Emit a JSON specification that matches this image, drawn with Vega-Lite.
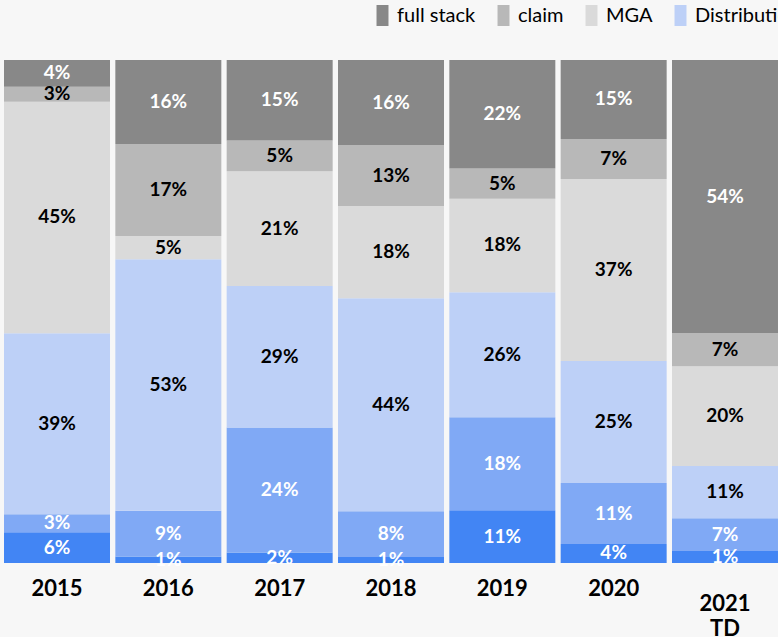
{
  "$schema": "https://vega.github.io/schema/vega-lite/v6.json",
  "autosize": {"type": "none"},
  "padding": {"left": 0, "top": 60, "right": 0, "bottom": 74},
  "width": 782,
  "height": 503,
  "background": "#f7f7f7",
  "config": {"view": {"stroke": null}, "font": "Lato"},
  "data": {
    "values": [
      {"year": "2015", "segment": "Other", "value": 6, "share": 6.1},
      {"year": "2015", "segment": "Infrastructure", "value": 3, "share": 3.6},
      {"year": "2015", "segment": "Distribution", "value": 39, "share": 36.0},
      {"year": "2015", "segment": "MGA", "value": 45, "share": 46.0},
      {"year": "2015", "segment": "claim", "value": 3, "share": 3.0},
      {"year": "2015", "segment": "full stack", "value": 4, "share": 5.3},
      {"year": "2016", "segment": "Other", "value": 1, "share": 1.3},
      {"year": "2016", "segment": "Infrastructure", "value": 9, "share": 9.1},
      {"year": "2016", "segment": "Distribution", "value": 53, "share": 50.0},
      {"year": "2016", "segment": "MGA", "value": 5, "share": 4.6},
      {"year": "2016", "segment": "claim", "value": 17, "share": 18.3},
      {"year": "2016", "segment": "full stack", "value": 16, "share": 16.7},
      {"year": "2017", "segment": "Other", "value": 2, "share": 2.1},
      {"year": "2017", "segment": "Infrastructure", "value": 24, "share": 24.8},
      {"year": "2017", "segment": "Distribution", "value": 29, "share": 28.1},
      {"year": "2017", "segment": "MGA", "value": 21, "share": 22.8},
      {"year": "2017", "segment": "claim", "value": 5, "share": 6.1},
      {"year": "2017", "segment": "full stack", "value": 15, "share": 16.0},
      {"year": "2018", "segment": "Other", "value": 1, "share": 1.2},
      {"year": "2018", "segment": "Infrastructure", "value": 8, "share": 9.1},
      {"year": "2018", "segment": "Distribution", "value": 44, "share": 42.3},
      {"year": "2018", "segment": "MGA", "value": 18, "share": 18.3},
      {"year": "2018", "segment": "claim", "value": 13, "share": 12.1},
      {"year": "2018", "segment": "full stack", "value": 16, "share": 16.9},
      {"year": "2019", "segment": "Other", "value": 11, "share": 10.5},
      {"year": "2019", "segment": "Infrastructure", "value": 18, "share": 18.5},
      {"year": "2019", "segment": "Distribution", "value": 26, "share": 24.9},
      {"year": "2019", "segment": "MGA", "value": 18, "share": 18.6},
      {"year": "2019", "segment": "claim", "value": 5, "share": 6.0},
      {"year": "2019", "segment": "full stack", "value": 22, "share": 21.6},
      {"year": "2020", "segment": "Other", "value": 4, "share": 3.8},
      {"year": "2020", "segment": "Infrastructure", "value": 11, "share": 12.1},
      {"year": "2020", "segment": "Distribution", "value": 25, "share": 24.3},
      {"year": "2020", "segment": "MGA", "value": 37, "share": 36.2},
      {"year": "2020", "segment": "claim", "value": 7, "share": 8.0},
      {"year": "2020", "segment": "full stack", "value": 15, "share": 15.7},
      {"year": "2021 TD", "segment": "Other", "value": 1, "share": 2.4},
      {"year": "2021 TD", "segment": "Infrastructure", "value": 7, "share": 6.5},
      {"year": "2021 TD", "segment": "Distribution", "value": 11, "share": 10.4},
      {"year": "2021 TD", "segment": "MGA", "value": 20, "share": 19.8},
      {"year": "2021 TD", "segment": "claim", "value": 7, "share": 6.6},
      {"year": "2021 TD", "segment": "full stack", "value": 54, "share": 54.3}
    ]
  },
  "transform": [
    {"calculate": "indexof(['full stack','claim','MGA','Distribution','Infrastructure','Other'], datum.segment)", "as": "ord"},
    {"stack": "share", "groupby": ["year"], "sort": [{"field": "ord", "order": "descending"}], "offset": "normalize", "as": ["v0", "v1"]},
    {"calculate": "(datum.v0 + datum.v1) / 2", "as": "mid"},
    {"calculate": "datum.value + '%'", "as": "label"}
  ],
  "encoding": {
    "x": {
      "field": "year",
      "type": "nominal",
      "sort": null,
      "scale": {"paddingInner": 0.048, "paddingOuter": 0.036},
      "axis": {
        "title": null,
        "domain": false,
        "ticks": false,
        "labelAngle": 0,
        "labelFont": "Lato",
        "labelFontWeight": "bold",
        "labelFontSize": 22,
        "labelColor": "#000000",
        "labelPadding": {"condition": {"test": "datum.value == '2021 TD'", "value": 30}, "value": 15},
        "labelLineHeight": 25,
        "labelExpr": "split(datum.label, ' ')"
      }
    }
  },
  "layer": [
    {
      "mark": {"type": "bar"},
      "encoding": {
        "y": {"field": "v0", "type": "quantitative", "scale": {"domain": [0, 1], "nice": false}, "axis": null},
        "y2": {"field": "v1"},
        "color": {
          "field": "segment",
          "type": "nominal",
          "scale": {
            "domain": ["full stack", "claim", "MGA", "Distribution", "Infrastructure", "Other"],
            "range": ["#888888", "#b8b8b8", "#dadada", "#bdd0f7", "#80a9f5", "#4285f4"]
          },
          "legend": {
            "title": null,
            "orient": "none",
            "direction": "horizontal",
            "legendX": 372,
            "legendY": -55,
            "symbolType": "M-0.57,-1H0.57V1H-0.57Z",
            "symbolSize": 441,
            "symbolStrokeWidth": 0,
            "symbolOpacity": 1,
            "labelFont": "Lato",
            "labelFontSize": 20,
            "labelColor": "#000000",
            "labelOffset": 4,
            "columnPadding": 17,
            "labelLimit": 400
          }
        }
      }
    },
    {
      "mark": {"type": "text", "font": "Lato", "fontWeight": "bold", "fontSize": 19, "baseline": "middle", "align": "center"},
      "encoding": {
        "y": {"field": "mid", "type": "quantitative"},
        "text": {"field": "label"},
        "color": {
          "condition": {"test": "indexof(['full stack','Infrastructure','Other'], datum.segment) >= 0", "value": "#ffffff"},
          "value": "#000000"
        }
      }
    }
  ]
}
